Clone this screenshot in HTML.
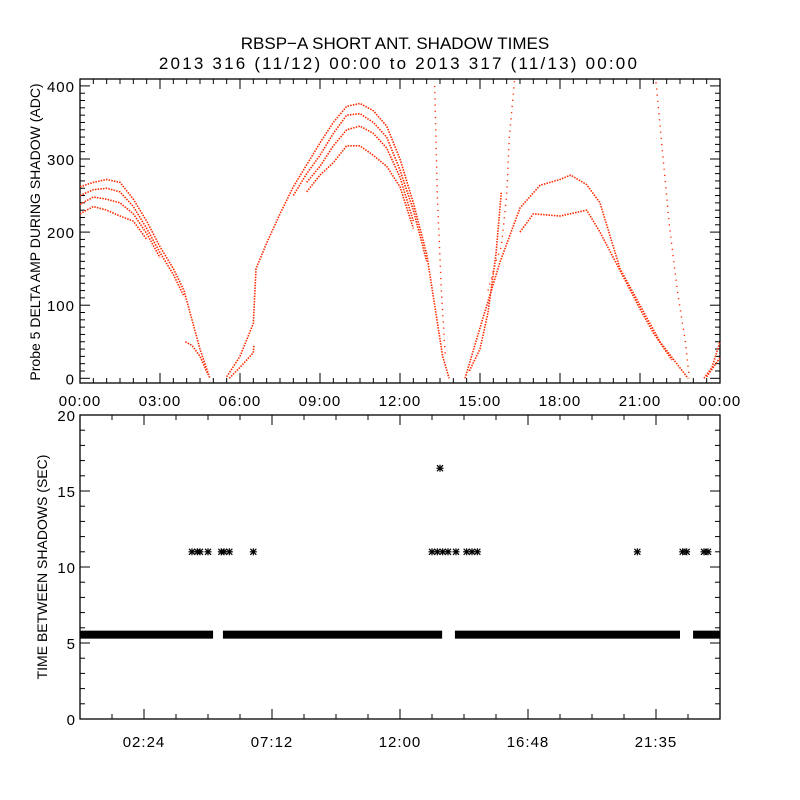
<!DOCTYPE html>
<html><head><meta charset="utf-8"><style>
html,body{margin:0;padding:0;background:#fff;width:800px;height:800px;overflow:hidden}
svg text{font-family:"Liberation Sans",sans-serif;fill:#000}
</style></head><body>
<svg id="chart" width="800" height="800" viewBox="0 0 800 800" xmlns="http://www.w3.org/2000/svg">
<rect width="800" height="800" fill="#fff"/>
<text x="395" y="49" font-size="17" text-anchor="middle">RBSP−A SHORT ANT. SHADOW TIMES</text>
<text x="399" y="69" font-size="17" text-anchor="middle" letter-spacing="2.2">2013 316 (11/12) 00:00 to 2013 317 (11/13) 00:00</text>
<text transform="translate(40,232) rotate(-90)" font-size="14" text-anchor="middle">Probe 5 DELTA AMP DURING SHADOW (ADC)</text>
<text transform="translate(47,567) rotate(-90)" font-size="14" text-anchor="middle">TIME BETWEEN SHADOWS (SEC)</text>
<g id="topPanel"></g>
<g id="botPanel"></g>
</svg>
<script>
// ---- top panel data: strands [hour, ADC] ----
const strandA1 = [[0,262],[0.5,268],[1,272],[1.5,268],[2,245],[2.5,215],[3,180],[3.5,150],[3.9,120],[4.2,80],[4.5,40],[4.87,0]];
const strandA2 = [[0,250],[0.5,258],[1,260],[1.5,255],[2,235],[2.5,205],[3,172],[3.5,142],[3.9,112]];
const strandA3 = [[0,238],[0.5,248],[1,245],[1.5,240],[2,225],[2.5,198],[3,165]];
const strandA4 = [[0,225],[0.5,235],[1,230],[1.5,222],[2,215],[2.5,190]];
const strandA5 = [[3.95,50],[4.2,45],[4.5,30],[4.8,5]];
const strandB1 = [[5.5,2],[6,30],[6.5,75],[6.6,150],[7,185],[7.5,225],[8,262],[8.5,292],[9,322],[9.5,350],[10,372],[10.5,376],[11,366],[11.5,345],[12,300],[12.5,240],[13,170],[13.3,100],[13.6,30],[13.84,0]];
const strandB2 = [[8,250],[8.5,280],[9,305],[9.5,335],[10,360],[10.5,362],[11,350],[11.5,330],[12,285],[12.5,230],[13,160]];
const strandB3 = [[8.5,268],[9,290],[9.5,318],[10,340],[10.5,345],[11,335],[11.5,315],[12,275],[12.5,215]];
const strandB4 = [[8.5,255],[9,278],[9.5,295],[10,318],[10.5,318],[11,305],[11.5,290],[12,262],[12.5,205]];
const strandB5 = [[5.6,0],[6,15],[6.5,35],[6.52,45]];
const strandC1 = [[14.44,0],[15,69],[15.75,159],[16.5,233],[17.25,264],[18,272],[18.4,278],[19,265],[19.5,240],[20.25,150],[21,100],[21.75,50],[22.8,0]];
const strandC2 = [[16.5,200],[17,225],[18,222],[19,230],[19.5,200],[20,165],[20.5,130],[21,95],[21.5,62],[22.2,25]];
const strandC3 = [[14.6,10],[15,40],[15.3,90],[15.6,170],[15.8,255]];
const strandC4 = [[15.3,120],[15.6,160],[15.8,180],[16,250],[16.1,330],[16.3,410]];
const strandC5 = [[21.6,405],[22.1,210],[22.4,120],[22.7,50],[22.85,0]];
const strandC6 = [[13.3,400],[13.4,250],[13.55,120],[13.7,30]];
const strandD1 = [[23.4,0],[23.7,15],[24,50]];
const strandD2 = [[23.5,2],[24,28]];
const strands = [strandA1,strandA2,strandA3,strandA4,strandA5,strandB1,strandB2,strandB3,strandB4,strandB5,strandC1,strandC2,strandC3,strandD1,strandD2];
const sparseStrands = [strandC4,strandC5,strandC6];
const topYTicks = [0,100,200,300,400];
const topXTicks = ["00:00","03:00","06:00","09:00","12:00","15:00","18:00","21:00","00:00"];
// ---- bottom panel data ----
const bandSegments = [[0,4.99],[5.36,13.58],[14.06,22.5],[22.99,24]];
const bandValue = 5.55;
const spikeHours = [4.2,4.4,4.5,4.8,5.3,5.4,5.6,6.5,13.2,13.4,13.6,13.8,14.1,14.5,14.7,14.9,20.9,22.6,22.75,23.4,23.55];
const spikeValue = 11;
const outlierHours = [13.5];
const outlierValues = [16.5];
const botYTicks = [0,5,10,15,20];
const botXTicks = ["02:24","07:12","12:00","16:48","21:35"];

const NS="http://www.w3.org/2000/svg";
function mk(tag,attrs,parent){const e=document.createElementNS(NS,tag);for(const k in attrs)e.setAttribute(k,attrs[k]);parent.appendChild(e);return e;}
const L=80,R=720;
const xs=h=>L+(R-L)*h/24;
const yTop=v=>378.3-v*0.731;
const yBot=v=>719-v*15.2;
const topG=document.getElementById('topPanel'), botG=document.getElementById('botPanel');

// top frame
const f1=mk('rect',{x:L,y:79,width:R-L,height:304,fill:'none',stroke:'#000','stroke-width':1.3},topG);


for(let v=0;v<=400;v+=10){const y=yTop(v);const len=v%100===0?10:5;
 mk('line',{x1:L,x2:L+len,y1:y,y2:y,stroke:'#000'},topG);mk('line',{x1:R,x2:R-len,y1:y,y2:y,stroke:'#000'},topG);}
topYTicks.forEach(v=>{const t=mk('text',{x:75,y:yTop(v)+6,'font-size':15,'text-anchor':'end','letter-spacing':1},topG);t.textContent=v;
 
 });
for(let h=0;h<=24;h+=0.5){const x=xs(h);const len=h%3===0?10:5;
 mk('line',{x1:x,x2:x,y1:383,y2:383-len,stroke:'#000'},topG);mk('line',{x1:x,x2:x,y1:79,y2:79+len,stroke:'#000'},topG);}
topXTicks.forEach((s,i)=>{const t=mk('text',{x:xs(i*3),y:406,'font-size':15,'text-anchor':'middle','letter-spacing':1},topG);t.textContent=s;
 
 });
strands.forEach(s=>{const p=mk('polyline',{points:s.map(d=>xs(d[0])+','+yTop(Math.min(d[1],409))).join(' '),fill:'none',stroke:'#ff2a00','stroke-width':1.6,'stroke-dasharray':'1.5 1.2'},topG);
 
 });
sparseStrands.forEach(s=>{const p=mk('polyline',{points:s.map(d=>xs(d[0])+','+yTop(Math.min(d[1],409))).join(' '),fill:'none',stroke:'#ff2a00','stroke-width':1.4,'stroke-dasharray':'1.2 5'},topG);
 
 });

// bottom frame
const f2=mk('rect',{x:L,y:415,width:R-L,height:304,fill:'none',stroke:'#000','stroke-width':1.3},botG);


for(let v=0;v<=20;v+=1){const y=yBot(v);const len=v%5===0?10:5;
 mk('line',{x1:L,x2:L+len,y1:y,y2:y,stroke:'#000'},botG);mk('line',{x1:R,x2:R-len,y1:y,y2:y,stroke:'#000'},botG);}
botYTicks.forEach(v=>{const t=mk('text',{x:76,y:yBot(v)+6,'font-size':15,'text-anchor':'end','letter-spacing':1},botG);t.textContent=v;
 
 });
for(let h=0;h<=24.01;h+=1.2){const x=xs(h);const len=(Math.round(h/1.2)%4===2)?10:5;
 mk('line',{x1:x,x2:x,y1:719,y2:719-len,stroke:'#000'},botG);mk('line',{x1:x,x2:x,y1:415,y2:415+len,stroke:'#000'},botG);}
botXTicks.forEach((s,i)=>{const t=mk('text',{x:xs(2.4+i*4.8),y:747,'font-size':15,'text-anchor':'middle','letter-spacing':1},botG);t.textContent=s;
 
 });
bandSegments.forEach(s=>{const r=mk('rect',{x:xs(s[0]),y:yBot(bandValue)-4,width:xs(s[1])-xs(s[0]),height:8,fill:'#000'},botG);
 
 });
function star(h,v){const x=xs(h),y=yBot(v);const g=mk('g',{stroke:'#000','stroke-width':1.2},botG);
 
 
 mk('line',{x1:x-3.5,x2:x+3.5,y1:y,y2:y},g);mk('line',{x1:x,x2:x,y1:y-3.5,y2:y+3.5},g);
 mk('line',{x1:x-3,x2:x+3,y1:y-3,y2:y+3},g);mk('line',{x1:x-3,x2:x+3,y1:y+3,y2:y-3},g);}
spikeHours.forEach(h=>star(h,spikeValue));
outlierHours.forEach((h,i)=>star(h,outlierValues[i]));
</script>
</body></html>
